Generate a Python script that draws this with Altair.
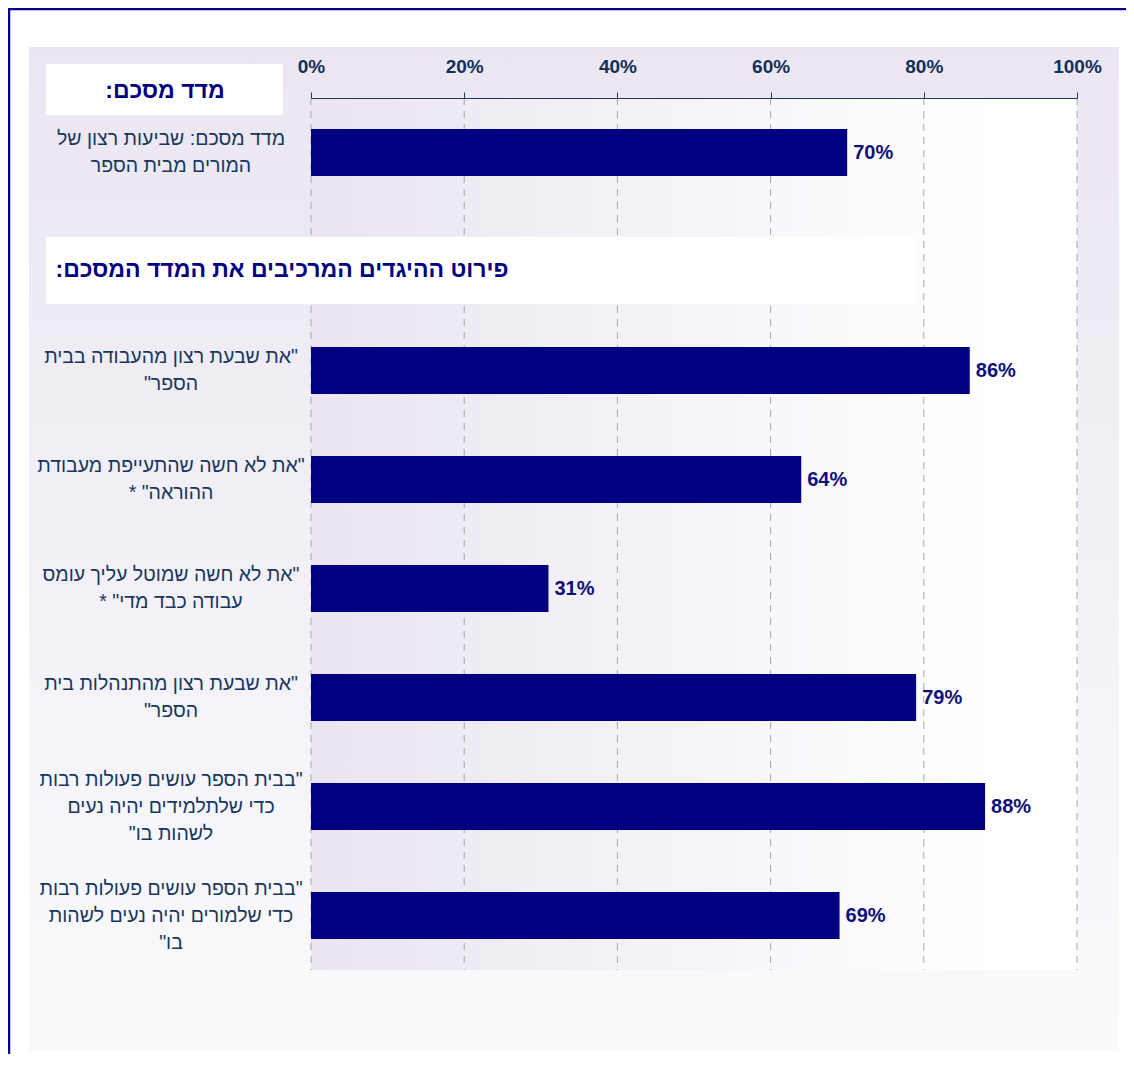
import altair as alt
import pandas as pd

# ---- data ----
labels = [
    "מדד מסכם: שביעות רצון של\nהמורים מבית הספר",
    '"את שבעת רצון מהעבודה בבית\nהספר"',
    '"את לא חשה שהתעייפת מעבודת\nההוראה" *',
    '"את לא חשה שמוטל עליך עומס\nעבודה כבד מדי" *',
    '"את שבעת רצון מהתנהלות בית\nהספר"',
    '"בבית הספר עושים פעולות רבות\nכדי שלתלמידים יהיה נעים\nלשהות בו"',
    '"בבית הספר עושים פעולות רבות\nכדי שלמורים יהיה נעים לשהות\nבו"',
]
values = [0.70, 0.86, 0.64, 0.31, 0.79, 0.88, 0.69]
ticks = [0, 0.2, 0.4, 0.6, 0.8, 1.0]
header_summary = "מדד מסכם:"
header_details = "פירוט ההיגדים המרכיבים את המדד המסכם:"
HEADER_SLOT = "__header__"

RLM = "\u200f"


def rtl(s):
    # mark every line as right-to-left so quotes / colons / asterisks sit correctly
    return "\n".join(RLM + line + RLM for line in s.split("\n"))


y_domain = [labels[0], HEADER_SLOT] + labels[1:]

df = pd.DataFrame({"label": labels, "value": values})
df["shown"] = [rtl(s) for s in labels]
df["nlines"] = [s.count("\n") + 1 for s in labels]
tick_df = pd.DataFrame({"value": ticks})
one = alt.Data(values=[{"a": 1}])

W, H = 766, 872
NAVY = "#000080"
LABEL_COLOR = "#17375E"
FONT = "Liberation Sans"
LINE_H = 27

xscale = alt.Scale(domain=[0, 1], nice=False, zero=True)
yscale = alt.Scale(domain=y_domain, paddingInner=0.57, paddingOuter=0.285)

x_axis = alt.Axis(
    orient="top", values=ticks, format=".0%", grid=False, title=None,
    tickSize=6, tickColor="#1F3864", domainColor="#1F3864", domainWidth=1.2,
    labelFont=FONT, labelFontSize=19, labelFontWeight="bold",
    labelColor="#12305A", labelPadding=16, labelFlush=False, zindex=1,
)
X = alt.X("value:Q", scale=xscale, axis=x_axis)
Y = alt.Y("label:N", scale=yscale, axis=None)

# ---- decorations ----
panel = alt.Chart(one).mark_rect(
    fill=alt.LinearGradient(
        gradient="linear",
        stops=[alt.GradientStop(color="#EBE6F1", offset=0),
               alt.GradientStop(color="#FAFAFC", offset=1)],
        x1=0, x2=0, y1=0, y2=1,
    )
).encode(x=alt.value(-282), x2=alt.value(808), y=alt.value(-51), y2=alt.value(954))

plot_bg = alt.Chart(one).mark_rect(
    fill=alt.LinearGradient(
        gradient="linear",
        stops=[alt.GradientStop(color="#EAE5F0", offset=0),
               alt.GradientStop(color="#FFFFFF", offset=0.9),
               alt.GradientStop(color="#FFFFFF", offset=1)],
        x1=0, x2=1, y1=0, y2=0,
    )
).encode(x=alt.value(0), x2=alt.value(W), y=alt.value(0), y2=alt.value(H))

grid = alt.Chart(tick_df).mark_rule(
    color="#A6A6A6", strokeDash=[7, 6], strokeWidth=1
).encode(x=X)

box1 = alt.Chart(one).mark_rect(color="white").encode(
    x=alt.value(-265), x2=alt.value(-28), y=alt.value(-34), y2=alt.value(17))
box2 = alt.Chart(one).mark_rect(color="white").encode(
    x=alt.value(-265), x2=alt.value(604), y=alt.value(139), y2=alt.value(206))

head1 = alt.Chart(one).mark_text(
    font=FONT, fontSize=23, fontWeight="bold", color=NAVY,
    align="center", baseline="middle", dir="rtl",
).encode(x=alt.value(-146), y=alt.value(-7), text=alt.value(rtl(header_summary)))

head2 = alt.Chart(one).mark_text(
    font=FONT, fontSize=23, fontWeight="bold", color=NAVY,
    align="center", baseline="middle", dir="rtl",
).encode(x=alt.value(-29), y=alt.value(172), text=alt.value(rtl(header_details)))

# ---- data marks ----
bars = alt.Chart(df).mark_bar(color=NAVY).encode(x=X, y=Y)

value_text = alt.Chart(df).mark_text(
    font=FONT, fontSize=20, fontWeight="bold", color="#10107A",
    align="left", baseline="middle", dx=6,
).encode(x=X, y=Y, text=alt.Text("value:Q", format=".0%"))


def cat_layer(n):
    return alt.Chart(df).transform_filter(
        alt.datum.nlines == n
    ).mark_text(
        font=FONT, fontSize=19.5, color=LABEL_COLOR, align="center",
        baseline="middle", lineBreak="\n", lineHeight=LINE_H, dir="rtl",
        dy=-(n - 1) * LINE_H / 2,
    ).encode(x=alt.value(-140), y=Y, text="shown:N")


cat_layers = [cat_layer(n) for n in sorted(set(df["nlines"]))]

border_left = alt.Chart(one).mark_rule(color="#00008B", strokeWidth=2.5).encode(
    x=alt.value(-302), y=alt.value(-90), y2=alt.value(H + 84))
border_top = alt.Chart(one).mark_rule(color="#00008B", strokeWidth=2.5).encode(
    x=alt.value(-303), x2=alt.value(W + 49), y=alt.value(-89))

chart = alt.layer(
    panel, plot_bg, grid, box1, box2, head1, head2,
    bars, value_text, *cat_layers, border_left, border_top,
).properties(
    width=W, height=H,
    autosize=alt.AutoSizeParams(type="none"),
    padding={"left": 303, "top": 90, "right": 49, "bottom": 84},
    background="white",
).configure_view(stroke=None)

chart.save("out.html", embed_options={"renderer": "svg", "actions": False})
